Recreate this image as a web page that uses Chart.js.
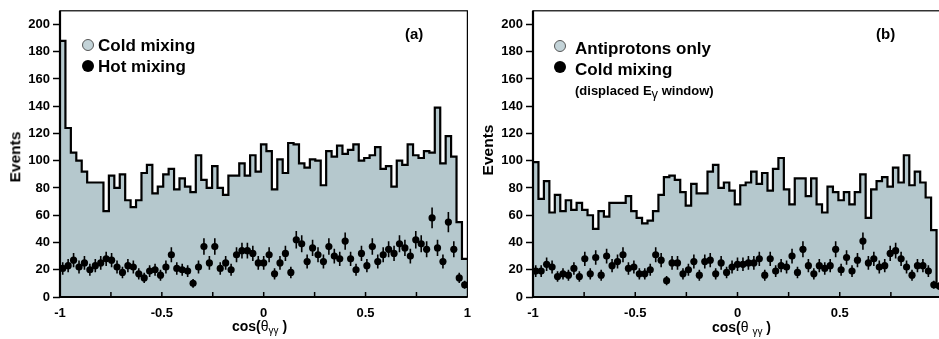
<!DOCTYPE html>
<html>
<head>
<meta charset="utf-8">
<script src="https://cdn.jsdelivr.net/npm/chart.js@4.4.1/dist/chart.umd.min.js"></script>
<style>
  body { margin: 0; width: 939px; height: 339px; overflow: hidden; background: #fff; position: relative;
         font-family: "Liberation Sans", Arial, sans-serif; font-weight: bold; color: #000; }
  canvas { position: absolute; top: 0; }
  .txt { position: absolute; white-space: nowrap; line-height: 1; }
  .ylab { position: absolute; white-space: nowrap; line-height: 1; font-size: 15.5px;
          transform: translate(-50%, -50%) rotate(-90deg); }
  .sym { font-weight: normal; }
  .sub { font-weight: normal; font-size: 10px; position: relative; top: 3px; }
  .dot { position: absolute; width: 12px; height: 12px; border-radius: 50%; box-sizing: border-box;
         transform: translate(-50%, -50%); }
  .dot.open { background: #c3d3d8; border: 1.3px solid #555; }
  .dot.full { background: #000; }
</style>
</head>
<body>
<canvas id="chartA" width="480" height="339" style="left:0px"></canvas>
<canvas id="chartB" width="480" height="339" style="left:470px"></canvas>

<!-- Panel (a) Beschriftung -->
<div class="ylab" style="left:15px;top:157px">Events</div>
<div class="txt" style="left:232px;top:319px;font-size:14px">cos(<span class="sym">θ</span><span class="sub">γγ</span> )</div>
<div class="dot open" style="left:88px;top:45px"></div>
<div class="txt" style="left:98px;top:37px;font-size:17px">Cold mixing</div>
<div class="dot full" style="left:87.5px;top:66px"></div>
<div class="txt" style="left:98px;top:58px;font-size:17px">Hot mixing</div>
<div class="txt" style="left:405px;top:26px;font-size:15px">(a)</div>

<!-- Panel (b) Beschriftung -->
<div class="ylab" style="left:488px;top:150px">Events</div>
<div class="txt" style="left:712px;top:320px;font-size:14px">cos(<span class="sym">θ</span> <span class="sub">γγ</span> )</div>
<div class="dot open" style="left:559.5px;top:46px"></div>
<div class="txt" style="left:575px;top:39.5px;font-size:17px">Antiprotons only</div>
<div class="dot full" style="left:559.5px;top:67px"></div>
<div class="txt" style="left:575px;top:61px;font-size:17px">Cold mixing</div>
<div class="txt" style="left:575px;top:84px;font-size:13px">(displaced E<span class="sub" style="font-size:13px">γ</span> window)</div>
<div class="txt" style="left:876px;top:26px;font-size:15px">(b)</div>

<script>
// ----------------------------------------------------------
// Daten
// ----------------------------------------------------------
const X_MIN = -1;
const X_MAX = 1;
const BIN_COUNT = 75;
const xTickValuesA = [-1, -0.5, 0, 0.5, 1];
const xTickValuesB = [-1, -0.5, 0, 0.5]; // "1" liegt bei (b) ausserhalb des Bildes
const xMinorTickValues = [-0.75, -0.5, -0.25, 0, 0.25, 0.5, 0.75];
const yTickValues = [0, 20, 40, 60, 80, 100, 120, 140, 160, 180, 200];

// Panel (a): Histogramm "Cold mixing"
const coldMixingA = [
  188, 124, 106, 100, 92, 84, 84, 84, 63, 89,
  80, 90, 71, 66, 71, 91, 97, 76, 81, 90,
  94, 79, 87, 81, 77, 104, 86, 80, 96, 80,
  75, 89, 89, 98, 89, 104, 92, 112, 107, 79,
  101, 91, 113, 112, 98, 95, 101, 100, 82, 107,
  103, 111, 105, 108, 112, 100, 102, 104, 110, 94,
  96, 81, 100, 97, 112, 104, 102, 107, 106, 139,
  98, 118, 103, 55, 28
];

// Panel (a): Punkte "Hot mixing"
const hotMixingA = [
  21, 23, 27, 22, 25, 20, 23, 25, 28, 27,
  22, 18, 23, 22, 17, 14, 19, 20, 16, 22,
  31, 21, 20, 19, 10, 22, 37, 25, 37, 21,
  25, 20, 31, 34, 34, 32, 25, 25, 31, 17,
  25, 32, 18, 42, 39, 26, 36, 31, 26, 37,
  30, 28, 41, 28, 20, 32, 23, 37, 26, 31,
  35, 32, 39, 36, 30, 42, 39, 35, 58, 36,
  26, 55, 35, 14, 9
];

// Panel (b): Histogramm "Antiprotons only"
const antiprotonsB = [
  99, 72, 85, 62, 75, 63, 71, 64, 69, 64,
  60, 50, 63, 59, 69, 69, 69, 74, 63, 58,
  54, 56, 63, 75, 88, 89, 86, 77, 67, 83,
  76, 76, 92, 97, 80, 84, 78, 68, 82, 84,
  92, 83, 91, 78, 94, 102, 79, 68, 87, 87,
  74, 87, 68, 62, 81, 77, 71, 77, 68, 77,
  90, 58, 79, 85, 88, 81, 95, 84, 104, 82,
  92, 84, 73, 49, 9
];

// Panel (b): Punkte "Cold mixing (displaced E window)"
const coldDisplacedB = [
  19, 19, 24, 22, 15, 17, 16, 21, 15, 28,
  17, 29, 16, 30, 23, 26, 31, 21, 22, 17,
  17, 20, 31, 27, 12, 25, 25, 17, 20, 26,
  16, 26, 27, 17, 25, 18, 22, 24, 24, 25,
  25, 28, 16, 28, 19, 23, 22, 30, 18, 35,
  23, 17, 23, 21, 23, 35, 20, 29, 19, 27,
  41, 25, 28, 22, 23, 32, 34, 28, 22, 16,
  23, 23, 19, 9, 8
];

const FILL_COLOR = "#b5c8cd";

// ----------------------------------------------------------
// Hilfsfunktionen
// ----------------------------------------------------------
const binWidth = (X_MAX - X_MIN) / BIN_COUNT;

// linke Binkanten + Endpunkt für die Stufenlinie
function histogramPoints(counts) {
  const pts = counts.map((c, i) => ({ x: X_MIN + i * binWidth, y: c }));
  pts.push({ x: X_MAX, y: counts[counts.length - 1] });
  return pts;
}

// Punkte in der Binmitte
function binCenterPoints(values) {
  return values.map((v, i) => ({ x: X_MIN + (i + 0.5) * binWidth, y: v }));
}

// Fehlerbalken (Poisson, sqrt(N)) über die Skalen zeichnen
const errorBarPlugin = {
  id: "errorBars",
  afterDatasetsDraw(chart) {
    const ctx = chart.ctx;
    const yScale = chart.scales.y;
    ctx.save();
    ctx.beginPath();
    ctx.rect(chart.chartArea.left, chart.chartArea.top, chart.chartArea.width, chart.chartArea.height);
    ctx.clip();
    ctx.strokeStyle = "#000";
    ctx.lineWidth = 1.6;
    chart.data.datasets.forEach((ds, di) => {
      if (!ds.errorBars) return;
      const meta = chart.getDatasetMeta(di);
      meta.data.forEach((el, i) => {
        const v = ds.data[i].y;
        const err = Math.sqrt(v);
        ctx.beginPath();
        ctx.moveTo(el.x, yScale.getPixelForValue(v + err));
        ctx.lineTo(el.x, yScale.getPixelForValue(v - err));
        ctx.stroke();
      });
    });
    ctx.restore();
  },
};

// Rahmen + nach innen zeigende x-Ticks
const framePlugin = {
  id: "frame",
  afterDatasetsDraw(chart) {
    const ctx = chart.ctx;
    const a = chart.chartArea;
    const xScale = chart.scales.x;
    ctx.save();
    ctx.strokeStyle = "#000";
    ctx.lineWidth = 1.5;
    xMinorTickValues.forEach((v) => {
      const px = xScale.getPixelForValue(v);
      ctx.beginPath();
      ctx.moveTo(px, a.bottom);
      ctx.lineTo(px, a.bottom - 5);
      ctx.stroke();
    });
    ctx.lineWidth = 1.2;
    ctx.strokeRect(a.left, a.top, a.right - a.left, a.bottom - a.top);
    ctx.lineWidth = 2.2;
    ctx.beginPath();
    ctx.moveTo(a.left, a.top);
    ctx.lineTo(a.left, a.bottom);
    ctx.lineTo(a.right, a.bottom);
    ctx.stroke();
    ctx.restore();
  },
};

Chart.defaults.font.family = "'Liberation Sans', Arial, sans-serif";
Chart.defaults.font.weight = "bold";
Chart.defaults.font.size = 13;
Chart.defaults.color = "#000";

function createPanel(canvasId, counts, points, xTicks, yAxisWidth, padRight) {
  const ctx = document.getElementById(canvasId).getContext("2d");
  return new Chart(ctx, {
    type: "scatter",
    data: {
      datasets: [
        {
          type: "scatter",
          data: binCenterPoints(points),
          errorBars: true,
          pointRadius: 3.6,
          pointBackgroundColor: "#000",
          pointBorderColor: "#000",
          pointBorderWidth: 0,
          order: 1,
        },
        {
          type: "line",
          data: histogramPoints(counts),
          stepped: true,
          fill: "origin",
          backgroundColor: FILL_COLOR,
          borderColor: "#000",
          borderWidth: 2.2,
          pointRadius: 0,
          tension: 0,
          order: 2,
        },
      ],
    },
    options: {
      responsive: false,
      animation: false,
      events: [],
      layout: { padding: { left: 0, right: padRight, top: 8, bottom: 0 } },
      plugins: { legend: { display: false }, tooltip: { enabled: false } },
      scales: {
        x: {
          type: "linear",
          min: X_MIN,
          max: X_MAX,
          afterBuildTicks: (scale) => {
            scale.ticks = xTicks.map((v) => ({ value: v }));
          },
          afterFit: (scale) => {
            scale.height = 42;
          },
          ticks: {
            autoSkip: false,
            maxRotation: 0,
            padding: 9,
            callback: (v) => String(v),
          },
          grid: { display: false, drawTicks: false },
          border: { display: false },
        },
        y: {
          type: "linear",
          min: 0,
          max: 210,
          afterBuildTicks: (scale) => {
            scale.ticks = yTickValues.map((v) => ({ value: v }));
          },
          afterFit: (scale) => {
            scale.width = yAxisWidth;
          },
          ticks: { padding: 3, callback: (v) => String(v) },
          grid: {
            drawOnChartArea: false,
            drawTicks: true,
            tickLength: 7,
            tickColor: "#000",
            tickWidth: 1.5,
          },
          border: { display: false },
        },
      },
    },
    plugins: [framePlugin, errorBarPlugin],
  });
}

createPanel("chartA", coldMixingA, hotMixingA, xTickValuesA, 60, 10);
createPanel("chartB", antiprotonsB, coldDisplacedB, xTickValuesB, 63, 8);
</script>
</body>
</html>
